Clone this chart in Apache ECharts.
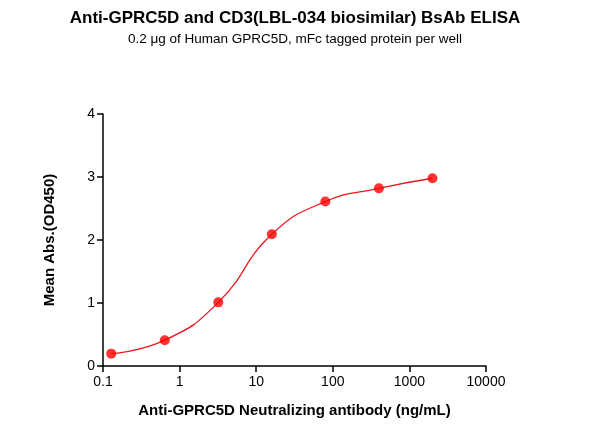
<!DOCTYPE html><html><head><meta charset="utf-8"><script src="https://cdn.jsdelivr.net/npm/echarts@6/dist/echarts.min.js"></script></head><body style="margin:0"><div id="c" style="width:590px;height:439px"></div><script>
const conc=[0.128,0.64,3.2,16,80,400,2000];
const od=[0.196,0.41,1.01,2.09,2.61,2.82,2.98];
const xTicks=[0.1,1,10,100,1000,10000];
const yTicks=[0,1,2,3,4];
const pts=conc.map((c,i)=>[c,od[i]]);
const ax={color:'#000',width:1.5};
const ch=echarts.init(document.getElementById('c'));
ch.setOption({animation:false,
title:{text:'Anti-GPRC5D and CD3(LBL-034 biosimilar) BsAb ELISA',subtext:'0.2 \u03bcg of Human GPRC5D, mFc tagged protein per well',left:'center',top:5,itemGap:5,
textStyle:{fontFamily:'Arial, Liberation Sans',fontSize:17,fontWeight:'bold',color:'#000'},subtextStyle:{fontFamily:'Arial, Liberation Sans',fontSize:13.5,color:'#000'}},
grid:{left:103,right:104,top:114,bottom:73},
xAxis:{type:'log',min:0.1,max:10000,logBase:10,name:'Anti-GPRC5D Neutralizing antibody (ng/mL)',nameLocation:'middle',nameGap:37,
nameTextStyle:{fontFamily:'Arial, Liberation Sans',fontSize:15,fontWeight:'bold',color:'#000'},
axisLine:{lineStyle:ax},axisTick:{lineStyle:ax,length:6},minorTick:{show:false},splitLine:{show:false},
axisLabel:{color:'#000',fontSize:14,margin:9,fontFamily:'Arial, Liberation Sans',formatter:v=>xTicks.includes(+v)?String(v):''}},
yAxis:{type:'value',min:0,max:4,interval:1,name:'Mean Abs.(OD450)',nameLocation:'middle',nameGap:46,
nameTextStyle:{fontFamily:'Arial, Liberation Sans',fontSize:15,fontWeight:'bold',color:'#000'},
axisLine:{show:true,lineStyle:ax},axisTick:{show:true,lineStyle:ax,length:6},splitLine:{show:false},
axisLabel:{color:'#000',fontSize:14,fontFamily:'Arial, Liberation Sans',formatter:v=>yTicks.includes(v)?String(v):''}},
series:[{type:'line',data:pts,smooth:0.5,showSymbol:false,lineStyle:{color:'#e8191c',width:1.3},z:2},
{type:'scatter',data:pts,symbolSize:10,itemStyle:{color:'#f00'},z:3}]});
</script></body></html>
